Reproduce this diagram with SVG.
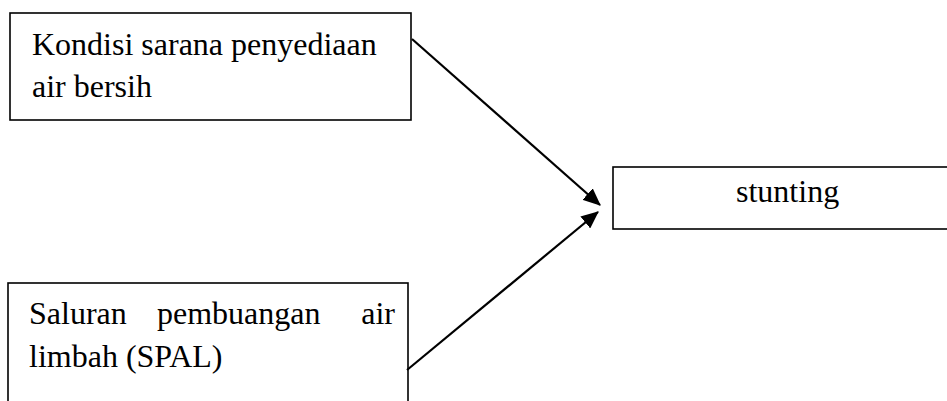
<svg xmlns="http://www.w3.org/2000/svg" width="947" height="401" viewBox="0 0 947 401">
<style>
.box{fill:#fff;stroke:#000;stroke-width:1.6}
.t{font-family:"Liberation Serif","Times New Roman",serif;font-size:32px;fill:#000}
.conn{stroke:#000;stroke-width:2.2;fill:none}
</style>
<defs>
<marker id="ah" markerWidth="8" markerHeight="7" refX="7.5" refY="3.5" orient="auto" markerUnits="strokeWidth">
<path d="M0,0 L8,3.5 L0,7 z" fill="#000"/>
</marker>
</defs>
<rect width="947" height="401" fill="#fff"/>
<g id="node-air-bersih">
<rect class="box" x="10" y="13" width="401" height="107"/>
<text class="t" x="32" y="55">Kondisi sarana penyediaan</text>
<text class="t" x="32" y="97">air bersih</text>
</g>
<g id="node-stunting">
<rect class="box" x="613" y="167" width="345" height="62"/>
<text class="t" x="736" y="202">stunting</text>
</g>
<g id="node-spal">
<rect class="box" x="8" y="283" width="400" height="130"/>
<text class="t" x="29" y="324">Saluran</text>
<text class="t" x="157" y="324">pembuangan</text>
<text class="t" x="395" y="324" text-anchor="end">air</text>
<text class="t" x="29" y="367">limbah (SPAL)</text>
</g>
<g id="connectors">
<line class="conn" x1="412" y1="39" x2="600" y2="205" marker-end="url(#ah)"/>
<line class="conn" x1="407" y1="370" x2="598" y2="212" marker-end="url(#ah)"/>
</g>
</svg>
